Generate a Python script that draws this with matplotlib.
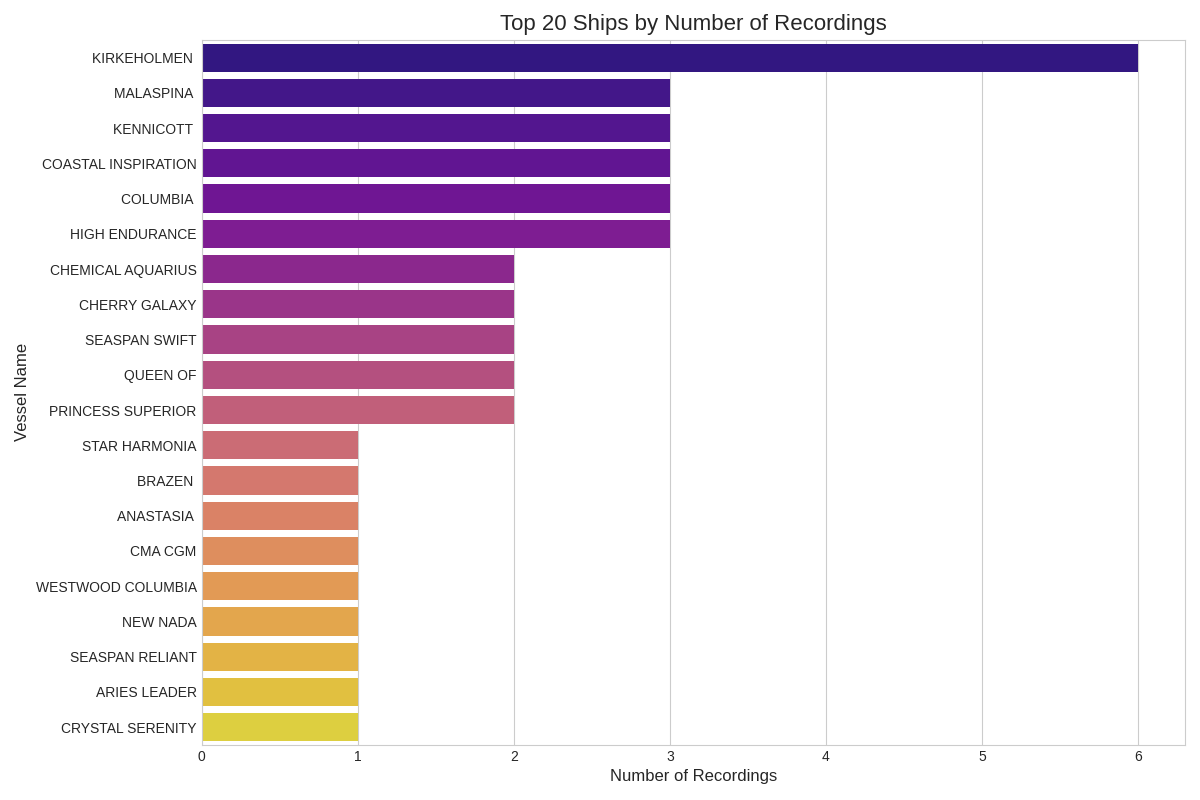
import matplotlib
matplotlib.use("Agg")
import matplotlib.pyplot as plt
import seaborn as sns

# ship names as they appear in the data (some have trailing spaces)
vessels = [
    "KIRKEHOLMEN ", "MALASPINA ", "KENNICOTT ", "COASTAL INSPIRATION",
    "COLUMBIA ", "HIGH ENDURANCE", "CHEMICAL AQUARIUS", "CHERRY GALAXY",
    "SEASPAN SWIFT", "QUEEN OF", "PRINCESS SUPERIOR", "STAR HARMONIA",
    "BRAZEN ", "ANASTASIA ", "CMA CGM", "WESTWOOD COLUMBIA", "NEW NADA",
    "SEASPAN RELIANT", "ARIES LEADER", "CRYSTAL SERENITY",
]
counts = [6, 3, 3, 3, 3, 3, 2, 2, 2, 2, 2, 1, 1, 1, 1, 1, 1, 1, 1, 1]

sns.set_style("whitegrid")
plt.rcParams['font.family'] = ['Liberation Sans', 'DejaVu Sans']

fig, ax = plt.subplots(figsize=(12, 8), dpi=100)
sns.barplot(x=counts, y=vessels, hue=vessels, palette="plasma",
            legend=False, ax=ax, orient="h", linewidth=0)

ax.set_title("Top 20 Ships by Number of Recordings", fontsize=16, pad=7.5)
ax.set_xlabel("Number of Recordings", fontsize=12)
ax.set_ylabel("Vessel Name", fontsize=12)
ax.tick_params(length=0, pad=3.5)

fig.subplots_adjust(left=0.168, right=0.9875, top=0.95, bottom=0.069)
plt.savefig("out.png")
